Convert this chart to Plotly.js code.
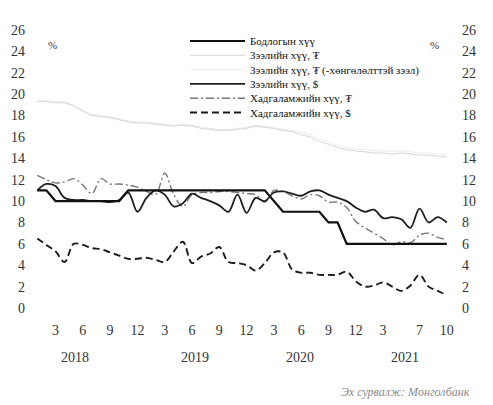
<!DOCTYPE html>
<html>
<head>
<meta charset="utf-8">
<script src="https://cdn.plot.ly/plotly-3.0.1.min.js"></script>
<style>
html,body{margin:0;padding:0;background:#fff;}
#chart{width:493px;height:405px;}
</style>
</head>
<body>
<div id="chart"></div>
<script>
// ---- data (monthly, Jan 2018 - Oct 2021) ----
var months = [
 '2018-01','2018-02','2018-03','2018-04','2018-05','2018-06','2018-07','2018-08','2018-09','2018-10','2018-11','2018-12',
 '2019-01','2019-02','2019-03','2019-04','2019-05','2019-06','2019-07','2019-08','2019-09','2019-10','2019-11','2019-12',
 '2020-01','2020-02','2020-03','2020-04','2020-05','2020-06','2020-07','2020-08','2020-09','2020-10','2020-11','2020-12',
 '2021-01','2021-02','2021-03','2021-04','2021-05','2021-06','2021-07','2021-08','2021-09','2021-10'
];
var policyRate = [11,11,10,10,10,10,10,10,10,10,11,11,
 11,11,11,11,11,11,11,11,11,11,11,11,
 11,11,10,9,9,9,9,9,8,8,6,6,
 6,6,6,6,6,6,6,6,6,6];
var loanMNT = [19.3,19.3,19.2,19.2,18.9,18.4,18.0,17.9,17.8,17.6,17.4,17.3,
 17.3,17.2,17.1,17.0,17.1,17.0,16.8,16.7,16.6,16.6,16.7,16.8,
 17.0,16.9,16.8,16.6,16.5,16.2,16.0,15.6,15.3,15.0,14.8,14.7,
 14.6,14.5,14.5,14.4,14.5,14.4,14.3,14.3,14.2,14.1];
var loanMNTexSub = [19.4,19.4,19.3,19.3,19.0,18.5,18.1,18.0,17.9,17.7,17.5,17.4,
 17.4,17.3,17.2,17.1,17.2,17.1,16.9,16.8,16.7,16.7,16.8,16.9,
 17.1,17.0,16.9,16.7,16.6,16.4,16.2,15.8,15.5,15.2,15.0,14.9,
 14.8,14.7,14.7,14.6,14.7,14.6,14.5,14.5,14.4,14.3];
var loanUSD = [11.0,11.6,11.4,10.3,10.1,10.1,10.0,10.0,9.9,10.1,10.8,9.0,
 10.3,11.0,10.6,9.5,9.8,10.7,10.3,10.0,9.6,9.0,10.6,8.9,
 10.3,10.0,10.8,10.9,10.7,10.5,10.9,11.0,10.6,10.3,10.0,9.4,
 9.0,9.2,8.4,8.5,8.3,7.5,9.3,8.0,8.5,8.0];
var depositMNT = [12.4,12.0,11.7,11.8,12.1,11.5,10.7,12.1,11.6,11.6,11.5,11.3,
 10.9,10.6,12.6,10.6,9.5,10.6,10.8,10.8,10.9,10.9,10.8,10.7,
 10.6,9.9,11.0,10.9,10.5,10.2,10.6,10.5,9.9,9.9,9.4,8.1,
 7.5,7.0,6.5,5.9,6.2,6.1,6.8,7.0,6.6,6.4];
var depositUSD = [6.5,5.9,5.3,4.3,6.0,5.9,5.6,5.5,5.2,4.9,4.6,4.6,
 4.7,4.5,4.3,5.3,6.2,4.2,4.8,5.1,5.7,4.3,4.2,4.0,
 3.5,4.2,5.2,5.2,3.6,3.3,3.3,3.1,3.1,3.1,3.4,2.5,
 2.0,2.1,2.4,2.0,1.6,2.1,3.1,2.0,1.6,1.2];

var seriesNames = [
 'Бодлогын хүү',
 'Зээлийн хүү, ₮',
 'Зээлийн хүү, ₮ (-хөнгөлөлттэй зээл)',
 'Зээлийн хүү, $',
 'Хадгаламжийн хүү, ₮',
 'Хадгаламжийн хүү, $'
];
var tickMonths = ['2018-03','2018-06','2018-09','2018-12','2019-03','2019-06','2019-09','2019-12',
 '2020-03','2020-06','2020-09','2020-12','2021-03','2021-07','2021-10'];
var tickLabels = ['3','6','9','12','3','6','9','12','3','6','9','12','3','7','10'];
var yearLabels = ['2018','2019','2020','2021'];
var unitLabel = '%';
var sourceText = 'Эх сурвалж: Монголбанк';

// ---- build ----
var xIdx = months.map(function(_, i){ return i; });
var tickVals = tickMonths.map(function(m){ return months.indexOf(m); });

var styles = [
 {color:'#111111', width:2.2, dash:'solid', shape:'linear'},
 {color:'#d6d6d6', width:1.0, dash:'solid', shape:'linear'},
 {color:'#ededed', width:1.0, dash:'solid', shape:'linear'},
 {color:'#1e1e1e', width:1.8, dash:'solid', shape:'spline'},
 {color:'#777777', width:1.4, dash:'8px,3px,2px,3px', shape:'spline'},
 {color:'#1a1a1a', width:1.9, dash:'7px,4px', shape:'spline'}
];
var values = [policyRate, loanMNT, loanMNTexSub, loanUSD, depositMNT, depositUSD];
var drawOrder = [2,1,4,3,0,5];

var traces = drawOrder.map(function(i){
  return {
    x: xIdx, y: values[i], name: seriesNames[i], type:'scatter', mode:'lines',
    line:{color:styles[i].color, width:styles[i].width, dash:styles[i].dash, shape:styles[i].shape, smoothing:1},
    hoverinfo:'skip', showlegend:false
  };
});

var serif = 'Liberation Serif, Times New Roman, serif';
var plotL = 30, plotR = 455, plotT = 30, plotB = 308;
function px(x){ return (x - plotL) / (plotR - plotL); }
function py(y){ return (plotB - y) / (plotB - plotT); }

var annotations = [];
var shapes = [];
var yearX = [75, 195, 300, 405];
yearLabels.forEach(function(t, i){
  annotations.push({xref:'paper', yref:'paper', x:px(yearX[i]), y:py(357), text:t, showarrow:false,
    xanchor:'center', yanchor:'middle', font:{family:serif, size:14, color:'#333'}});
});
annotations.push({xref:'paper', yref:'paper', x:px(52), y:py(45), text:unitLabel, showarrow:false,
  xanchor:'center', yanchor:'middle', font:{family:serif, size:11, color:'#333'}});
annotations.push({xref:'paper', yref:'paper', x:px(434), y:py(45), text:unitLabel, showarrow:false,
  xanchor:'center', yanchor:'middle', font:{family:serif, size:11, color:'#333'}});
annotations.push({xref:'paper', yref:'paper', x:px(472), y:py(392), text:'<i>'+sourceText+'</i>', showarrow:false,
  xanchor:'right', yanchor:'middle', font:{family:serif, size:12, color:'#8a8a8a'}});

// compact legend: one multi-line text block plus line samples
var legFont = 11;
var legGap = legFont * 1.3;
var legTop = 41;
var nRows = seriesNames.length;
for (var i = 0; i < nRows; i++) {
  var s = styles[i];
  var yRow = legTop + i * legGap;
  shapes.push({type:'line', xref:'paper', yref:'paper', x0:px(190), x1:px(245), y0:py(yRow), y1:py(yRow),
    line:{color:s.color, width:s.width, dash:s.dash}});
}
annotations.push({xref:'paper', yref:'paper', x:px(248), y:py(legTop + (nRows - 1) * legGap / 2),
  text:seriesNames.join('<br>'), showarrow:false, align:'left',
  xanchor:'left', yanchor:'middle', font:{family:serif, size:legFont, color:'#111'}});

var axisFont = {family:serif, size:14, color:'#333'};
var layout = {
  width:493, height:405,
  margin:{l:plotL, r:493-plotR, t:plotT, b:405-plotB, pad:0},
  paper_bgcolor:'#ffffff', plot_bgcolor:'#ffffff',
  showlegend:false,
  xaxis:{range:[-0.8, 45.9], tickmode:'array', tickvals:tickVals, ticktext:tickLabels,
    showgrid:false, zeroline:false, showline:false, ticks:'', tickfont:axisFont, ticklabelstandoff:12, fixedrange:true},
  yaxis:{range:[0,26], dtick:2, tick0:0, showgrid:false, zeroline:false, showline:false, ticks:'',
    tickfont:axisFont, ticklabelstandoff:4},
  yaxis2:{range:[0,26], dtick:2, tick0:0, overlaying:'y', side:'right', showgrid:false, zeroline:false,
    showline:false, ticks:'', tickfont:axisFont, ticklabelstandoff:6},
  annotations:annotations,
  shapes:shapes
};
// invisible companion so the right axis has a trace bound to it
traces.push({x:[xIdx[0]], y:[policyRate[0]], yaxis:'y2', type:'scatter', mode:'lines', line:{width:0}, hoverinfo:'skip', showlegend:false});

Plotly.newPlot('chart', traces, layout, {staticPlot:true, displayModeBar:false});
</script>
</body>
</html>
